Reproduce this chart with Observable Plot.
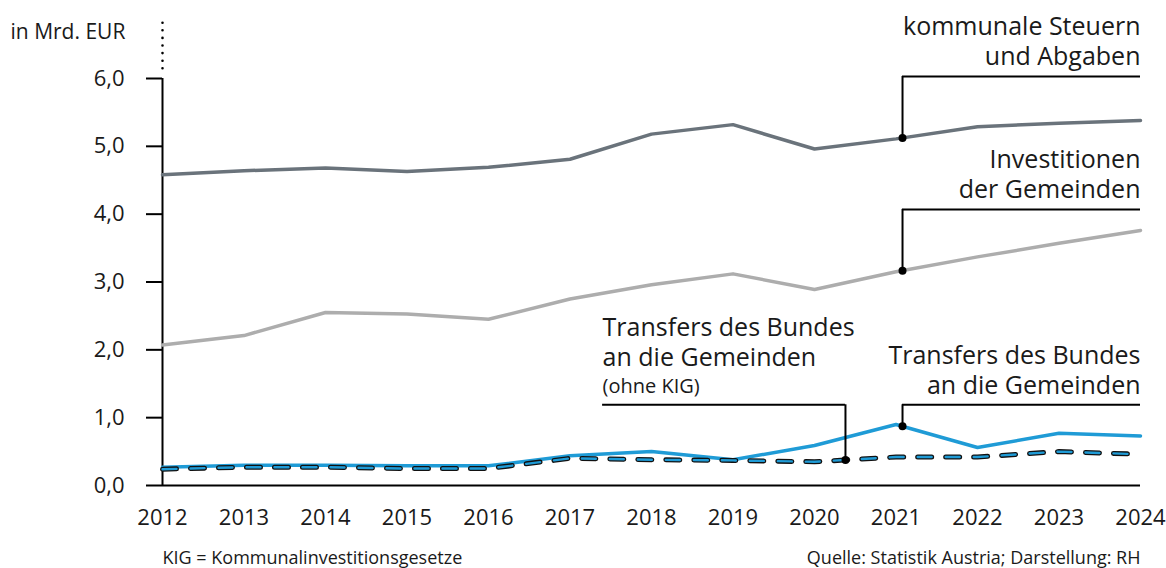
<!DOCTYPE html>
<html>
<head>
<meta charset="utf-8">
<script src="https://cdn.jsdelivr.net/npm/d3@7"></script>
<script src="https://cdn.jsdelivr.net/npm/@observablehq/plot@0.6"></script>
<style>
  html, body { margin: 0; padding: 0; background: #fff; }
  body { width: 1166px; height: 568px; overflow: hidden; font-family: "Open Sans", sans-serif; }
</style>
</head>
<body>
<div id="chart"></div>
<script>
const years = [2012, 2013, 2014, 2015, 2016, 2017, 2018, 2019, 2020, 2021, 2022, 2023, 2024];
const steuern = [4.58, 4.64, 4.68, 4.63, 4.69, 4.81, 5.18, 5.32, 4.96, 5.11, 5.29, 5.34, 5.38];
const investitionen = [2.07, 2.21, 2.55, 2.53, 2.45, 2.75, 2.96, 3.12, 2.89, 3.15, 3.37, 3.57, 3.76];
const transfers = [0.27, 0.30, 0.30, 0.29, 0.29, 0.44, 0.50, 0.38, 0.59, 0.90, 0.56, 0.77, 0.73];
const transfersOhneKIG = [0.24, 0.27, 0.27, 0.25, 0.25, 0.40, 0.38, 0.37, 0.35, 0.42, 0.42, 0.50, 0.46];
const yTicks = [0, 1, 2, 3, 4, 5, 6];
const unitLabel = "in Mrd. EUR";
const footLeft = "KIG = Kommunalinvestitionsgesetze";
const footRight = "Quelle: Statistik Austria; Darstellung: RH";

// annotations: anchor year, series, leader height (value), label lines, side
const annotations = [
  {year: 2021.08, values: steuern, top: 6.03, lines: ["kommunale Steuern", "und Abgaben"], side: "right"},
  {year: 2021.08, values: investitionen, top: 4.07, lines: ["Investitionen", "der Gemeinden"], side: "right"},
  {year: 2021.08, values: transfers, top: 1.19, lines: ["Transfers des Bundes", "an die Gemeinden"], side: "right"},
  {year: 2020.38, values: transfersOhneKIG, top: 1.19, lines: ["Transfers des Bundes", "an die Gemeinden"], sub: "(ohne KIG)", side: "left", leftEnd: 2017.4}
];

const interp = (vals, yr) => {
  const i = Math.min(Math.floor(yr - years[0]), years.length - 2);
  const t = yr - years[i];
  return vals[i] + (vals[i + 1] - vals[i]) * t;
};

const mk = vals => years.map((y, i) => ({year: y, value: vals[i]}));
const dSteuern = mk(steuern), dInv = mk(investitionen), dTr = mk(transfers), dTrK = mk(transfersOhneKIG);

const dots = annotations.map(a => ({year: a.year, value: interp(a.values, a.year)}));
const verticals = annotations.map(a => ({year: a.year, v1: interp(a.values, a.year), v2: a.top}));
const horizontals = annotations.map(a => a.side === "right"
  ? {x1: a.year, x2: years[years.length - 1], y: a.top}
  : {x1: a.leftEnd, x2: a.year, y: a.top});

const labelRows = [];
annotations.forEach(a => {
  const n = a.lines.length;
  const base = a.sub ? -47 : -19;
  a.lines.forEach((t, k) => {
    labelRows.push({
      text: t,
      x: a.side === "right" ? years[years.length - 1] : a.leftEnd,
      y: a.top,
      dy: base - (n - 1 - k) * 30,
      anchor: a.side === "right" ? "end" : "start",
      size: 25
    });
  });
  if (a.sub) labelRows.push({text: a.sub, x: a.leftEnd, y: a.top, dy: -18, anchor: "start", size: 20});
});

const fmt = d => d3.format(".1f")(d).replace(".", ",");
const txt = "#1a1a1a";

const plot = Plot.plot({
  width: 1166,
  height: 568,
  marginLeft: 162,
  marginRight: 26,
  marginTop: 78,
  marginBottom: 83,
  style: {fontFamily: "'Open Sans', sans-serif", color: txt, background: "#fff"},
  x: {domain: [years[0], years[years.length - 1]]},
  y: {domain: [0, 6]},
  marks: [
    Plot.axisX(years, {tickSize: 0, tickPadding: 24, tickFormat: d => String(d), fontSize: 22, label: null}),
    Plot.axisY(yTicks, {tickSize: 16, tickPadding: 22, tickFormat: fmt, fontSize: 22, label: null, strokeWidth: 2, stroke: "#000"}),
    Plot.ruleY([0], {stroke: "#000", strokeWidth: 2}),
    Plot.ruleX([years[0]], {y1: 0, y2: 6, stroke: "#000", strokeWidth: 2}),
    Plot.ruleX([years[0]], {y1: 6.143, y2: 6.82, stroke: "#000", strokeWidth: 2.6, strokeDasharray: "0,7.6", strokeLinecap: "round"}),
    Plot.text([unitLabel], {frameAnchor: "top-left", dx: -152, dy: -54, textAnchor: "start", fontSize: 21, fill: txt}),
    Plot.line(dSteuern, {x: "year", y: "value", stroke: "#6a737b", strokeWidth: 3.5}),
    Plot.line(dInv, {x: "year", y: "value", stroke: "#adadad", strokeWidth: 3.5}),
    Plot.line(dTr, {x: "year", y: "value", stroke: "#1f9bd6", strokeWidth: 3.5}),
    Plot.line(dTrK, {x: "year", y: "value", stroke: "#111", strokeWidth: 5, strokeDasharray: "14,14", strokeLinecap: "round"}),
    Plot.line(dTrK, {x: "year", y: "value", stroke: "#1f9bd6", strokeWidth: 2.4, strokeDasharray: "14,14", strokeLinecap: "round"}),
    Plot.ruleX(verticals, {x: "year", y1: "v1", y2: "v2", stroke: "#000", strokeWidth: 2}),
    Plot.ruleY(horizontals, {x1: "x1", x2: "x2", y: "y", stroke: "#000", strokeWidth: 2}),
    Plot.dot(dots, {x: "year", y: "value", r: 4, fill: "#000", stroke: null}),
    ...labelRows.map(r => Plot.text([r], {x: "x", y: "y", text: "text", dy: r.dy, textAnchor: r.anchor, fontSize: r.size, fill: txt, lineAnchor: "middle"})),
    Plot.text([footLeft], {frameAnchor: "bottom-left", dy: 78, textAnchor: "start", fontSize: 18, fill: txt}),
    Plot.text([footRight], {frameAnchor: "bottom-right", dy: 78, textAnchor: "end", fontSize: 18, fill: txt})
  ]
});
document.getElementById("chart").appendChild(plot);
</script>
</body>
</html>
